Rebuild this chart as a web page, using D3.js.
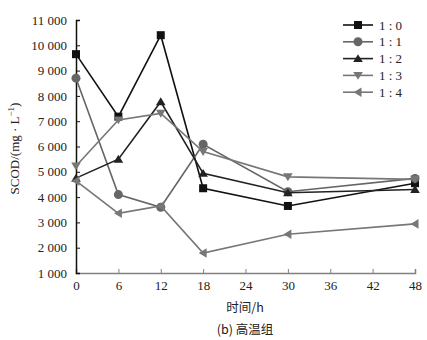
<!DOCTYPE html>
<html>
<head>
<meta charset="utf-8">
<script src="https://cdn.jsdelivr.net/npm/d3@7"></script>
<style>
  html, body { margin: 0; padding: 0; background: #fff; }
  svg { display: block; }
</style>
</head>
<body>
<svg id="chart" width="427" height="340"></svg>
<script>
// Sampling times (h)
const hours = [0, 6, 12, 18, 30, 48];

// SCOD (mg/L) for each mixing ratio
const seriesNames = ["1 : 0", "1 : 1", "1 : 2", "1 : 3", "1 : 4"];
const s10 = [9650, 7180, 10400, 4350, 3650, 4550];
const s11 = [8700, 4100, 3600, 6090, 4210, 4740];
const s12 = [4750, 5500, 7770, 4940, 4170, 4300];
const s13 = [5230, 7050, 7310, 5800, 4800, 4700];
const s14 = [4640, 3360, 3650, 1790, 2530, 2940];

// Axis ticks
const xTicks = [0, 6, 12, 18, 24, 30, 36, 42, 48];
const yTicks = [1000, 2000, 3000, 4000, 5000, 6000, 7000, 8000, 9000, 10000, 11000];
const yTickLabels = ["1 000", "2 000", "3 000", "4 000", "5 000", "6 000", "7 000", "8 000", "9 000", "10 000", "11 000"];

const seriesValues = [s10, s11, s12, s13, s14];
const colors = ["#111", "#666", "#222", "#777", "#777"];
const symbols = ["square", "circle", "up", "down", "left"];

const svg = d3.select("#chart");
const serif = "Liberation Serif, Times New Roman, DejaVu Serif, serif";
const cjk = "Noto Sans CJK SC, sans-serif";

const x = d3.scaleLinear().domain([0, 48]).range([76, 415]);
const y = d3.scaleLinear().domain([1000, 11000]).range([273, 20]);

// X axis (inner ticks)
const xAxis = svg.append("g")
  .attr("transform", `translate(0,${y(1000)})`)
  .call(d3.axisBottom(x).tickValues(xTicks).tickSize(-4).tickPadding(8));
xAxis.attr("font-family", serif);
xAxis.select(".domain").attr("stroke", "#808080").attr("stroke-width", 1.5);
xAxis.selectAll(".tick line").attr("stroke", "#808080");
xAxis.selectAll("text").style("font-family", serif).attr("font-size", 13).attr("fill", "#222");

// Y axis (inner ticks)
const yAxis = svg.append("g")
  .attr("transform", `translate(${x(0)},0)`)
  .call(d3.axisLeft(y).tickValues(yTicks).tickSize(-4).tickPadding(9)
    .tickFormat((d, i) => yTickLabels[i]));
yAxis.attr("font-family", serif);
yAxis.select(".domain").attr("stroke", "#111").attr("stroke-width", 1.5);
yAxis.selectAll(".tick line").attr("stroke", "#111");
yAxis.selectAll("text").style("font-family", serif).attr("font-size", 13).attr("fill", "#222");

// Marker drawing
function marker(g, type, cx, cy, color, s) {
  if (type === "square") {
    g.append("rect").attr("x", cx - s / 2).attr("y", cy - s / 2)
      .attr("width", s).attr("height", s).attr("fill", color);
  } else if (type === "circle") {
    g.append("circle").attr("cx", cx).attr("cy", cy).attr("r", s / 2 + 0.5).attr("fill", color);
  } else {
    const h = s * 0.55, w = s * 0.6;
    let pts;
    if (type === "up") pts = [[cx, cy - h], [cx - w, cy + h * 0.8], [cx + w, cy + h * 0.8]];
    else if (type === "down") pts = [[cx, cy + h], [cx - w, cy - h * 0.8], [cx + w, cy - h * 0.8]];
    else pts = [[cx - h, cy], [cx + h * 0.8, cy - w], [cx + h * 0.8, cy + w]];
    g.append("polygon").attr("points", pts.map(p => p.join(",")).join(" ")).attr("fill", color);
  }
}

const line = d3.line().x((d, i) => x(hours[i])).y(d => y(d));

seriesValues.forEach((vals, k) => {
  const g = svg.append("g");
  g.append("path").datum(vals).attr("d", line)
    .attr("fill", "none").attr("stroke", colors[k]).attr("stroke-width", 1.6);
  vals.forEach((v, i) => marker(g, symbols[k], x(hours[i]), y(v), colors[k], 8));
});

// Legend
const legend = svg.append("g");
seriesNames.forEach((name, k) => {
  const ly = 25 + k * 16.8;
  legend.append("line").attr("x1", 343).attr("x2", 373).attr("y1", ly).attr("y2", ly)
    .attr("stroke", colors[k]).attr("stroke-width", 1.6);
  marker(legend, symbols[k], 358, ly, colors[k], 8);
  legend.append("text").attr("x", 379).attr("y", ly + 4.5)
    .style("font-family", serif).attr("font-size", 13).attr("fill", "#222").text(name);
});

// Y axis title
const yt = svg.append("text")
  .attr("transform", `translate(19,${(y(1000) + y(11000)) / 2 + 2}) rotate(-90)`)
  .attr("text-anchor", "middle").style("font-family", serif).attr("font-size", 13).attr("fill", "#222");
yt.append("tspan").text("SCOD/(mg · L");
yt.append("tspan").attr("dy", -5).attr("font-size", 9).text("−1");
yt.append("tspan").attr("dy", 5).text(")");

// X axis title and caption
svg.append("text").attr("x", 245).attr("y", 312).attr("text-anchor", "middle")
  .style("font-family", cjk).attr("font-size", 12.5).attr("fill", "#222").text("时间/h");
svg.append("text").attr("x", 245).attr("y", 334).attr("text-anchor", "middle")
  .style("font-family", cjk).attr("font-size", 12.5).attr("fill", "#222").text("(b) 高温组");
</script>
</body>
</html>
